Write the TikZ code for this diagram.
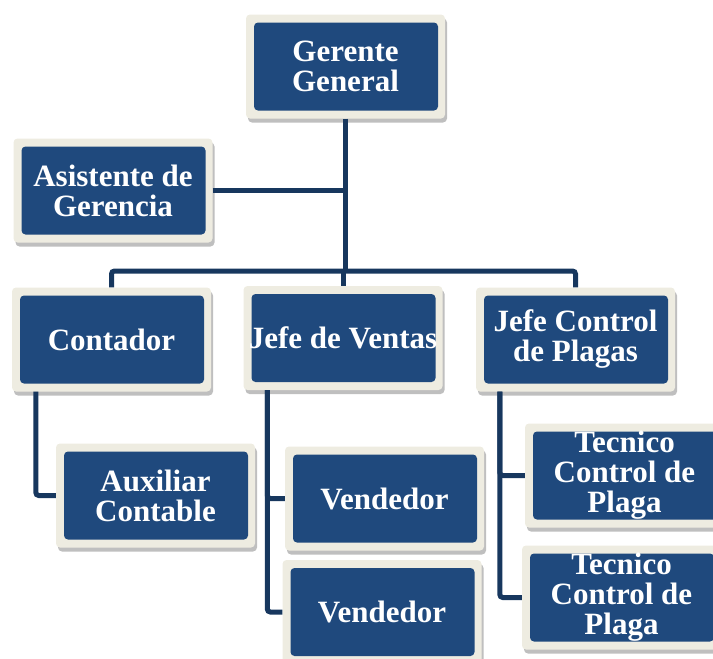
\documentclass[tikz,border=0pt]{standalone}
\usepackage{fontspec}
\setmainfont{Liberation Serif}
\usepackage{tikz}
\usetikzlibrary{calc,shadows}

\definecolor{azul}{HTML}{1F497D}
\definecolor{marco}{HTML}{EEECE1}
\definecolor{linea}{HTML}{17375E}

\begin{document}
\begin{tikzpicture}[x=1pt, y=-1pt,
    cargo/.style={rectangle, rounded corners=4pt, fill=marco,
      minimum width=199pt, minimum height=104pt, inner sep=0pt,
      align=center, text=white, font=\bfseries\fontsize{31}{30}\selectfont,
      drop shadow={shadow xshift=2pt, shadow yshift=-4pt, fill=black, opacity=0.25},
      path picture={\fill[azul] ([shift={(8pt,-8pt)}]path picture bounding box.north west)
        rectangle ([shift={(-7pt,8pt)}]path picture bounding box.south east);}},
    conn/.style={draw=linea, line width=5pt, rounded corners=3pt}]
    % page size of the chart
    \useasboundingbox (0,0) rectangle (713,659);
    \clip (0,0) rectangle (713,659);

    % height of the common bar under the manager
    \pgfmathsetmacro{\barY}{271}
    % distance of the branch lines from the left edge of a box
    \pgfmathsetmacro{\branchX}{24}

    % boxes
    \node[cargo] (gerente) at (345.5,66.5) {Gerente\\General};
    \node[cargo] (asistente) at (113,190.5) {Asistente de\\Gerencia};

    \node[cargo] (contador) at (111.5,339.5) {Contador};
    \node[cargo] (ventas) at (343,338) {Jefe de Ventas};
    \node[cargo] (control) at (575.5,339.5) {Jefe Control\\de Plagas};

    \node[cargo] (auxiliar) at (155.5,495.5) {Auxiliar\\Contable};
    \node[cargo] (vendedorA) at (384.5,498.5) {Vendedor};
    \node[cargo] (vendedorB) at (382,612) {Vendedor};
    \node[cargo] (tecnicoA) at (624.5,475.5) {Tecnico\\Control de\\Plaga};
    \node[cargo] (tecnicoB) at (621.5,597.5) {Tecnico\\Control de\\Plaga};

    % manager to the bar, and the assistant
    \coordinate (bar) at (0,\barY);
    \draw[conn] (gerente.south) -- (gerente.south |- bar);
    \draw[conn] (asistente.east) -- (asistente.east -| gerente.south);
    \draw[conn] (contador.north) -- (contador.north |- bar)
      -- (control.north |- bar) -- (control.north);
    \draw[conn] (ventas.north) -- (ventas.north |- bar);

    % branches down the left side of each head
    \coordinate (ramaC) at ([xshift=\branchX pt]contador.south west);
    \coordinate (ramaV) at ([xshift=\branchX pt]ventas.south west);
    \coordinate (ramaP) at ([xshift=\branchX pt]control.south west);

    \draw[conn] (ramaC) |- (auxiliar.west);
    \draw[conn] (ramaV) |- (vendedorA.west);
    \draw[conn] (ramaV) |- (vendedorB.west);
    \draw[conn] (ramaP) |- (tecnicoA.west);
    \draw[conn] (ramaP) |- (tecnicoB.west);
\end{tikzpicture}
\end{document}
